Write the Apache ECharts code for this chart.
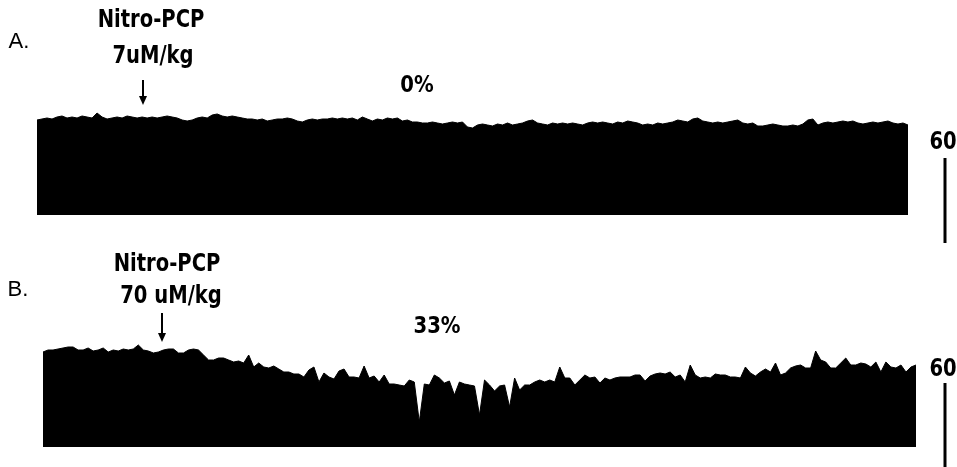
<!DOCTYPE html>
<html>
<head>
<meta charset="utf-8">
<script src="https://cdn.jsdelivr.net/npm/echarts@6/dist/echarts.min.js"></script>
<style>
  html, body { margin: 0; padding: 0; background: #fff; }
  #chart { width: 957px; height: 467px; }
</style>
</head>
<body>
<div id="chart"></div>
<script>
// trace height above baseline (arbitrary units)
var traceA = [
  95, 96, 97, 96, 98, 99, 97, 98, 97, 99, 98, 97, 102, 98, 96, 97, 98, 97, 99, 98,
  97, 98, 97, 98, 97, 98, 99, 98, 97, 95, 94, 95, 97, 98, 97, 100, 101, 99, 98, 99,
  98, 97, 96, 96, 95, 96, 94, 95, 96, 96, 97, 96, 94, 93, 95, 96, 95, 96, 96, 97,
  96, 97, 96, 97, 95, 98, 96, 94, 96, 95, 97, 96, 97, 94, 95, 93, 93, 92, 92, 93,
  92, 91, 92, 93, 92, 93, 88, 87, 90, 91, 90, 89, 91, 90, 92, 90, 91, 92, 94, 95,
  92, 91, 90, 92, 91, 92, 91, 92, 91, 90, 92, 93, 92, 93, 92, 91, 93, 92, 94, 93,
  92, 90, 91, 90, 92, 91, 92, 93, 95, 94, 93, 96, 97, 94, 93, 92, 93, 92, 93, 94,
  95, 92, 91, 92, 89, 89, 90, 91, 90, 89, 89, 90, 89, 91, 95, 96, 90, 92, 93, 92,
  93, 94, 93, 94, 92, 91, 92, 93, 92, 93, 94, 92, 91, 92, 90
]
var traceB = [
  95, 97, 97, 98, 99, 100, 100, 97, 97, 99, 96, 97, 99, 95, 97, 96, 98, 97, 98, 102,
  97, 96, 94, 95, 97, 98, 98, 94, 94, 97, 98, 97, 92, 87, 87, 89, 89, 87, 85, 86,
  84, 92, 80, 84, 80, 79, 81, 78, 75, 75, 73, 73, 70, 77, 80, 65, 74, 70, 68, 76,
  78, 70, 70, 69, 81, 69, 71, 65, 72, 63, 63, 62, 61, 67, 65, 25, 63, 62, 72, 69,
  64, 66, 52, 65, 63, 62, 61, 32, 67, 62, 56, 61, 62, 40, 69, 57, 62, 62, 65, 67,
  65, 67, 65, 80, 69, 69, 62, 67, 72, 69, 70, 64, 69, 67, 69, 70, 70, 70, 72, 72,
  66, 71, 73, 74, 73, 75, 70, 72, 65, 82, 72, 69, 70, 69, 73, 72, 72, 70, 70, 69,
  80, 74, 71, 75, 78, 75, 84, 72, 74, 79, 81, 82, 79, 79, 96, 87, 85, 79, 79, 84,
  89, 82, 82, 84, 83, 80, 85, 75, 85, 80, 79, 82, 75, 80, 82
]
var panelLabels = ['A.', 'B.']
var drugName = 'Nitro-PCP'
var doseLabels = ['7uM/kg', '70 uM/kg']
var inhibitionLabels = ['0%', '33%']
var scaleLabel = '60'

var chart = echarts.init(document.getElementById('chart'))

function idx(arr) {
  return arr.map(function (v, i) { return i })
}

function traceSeries(data, n) {
  return {
    type: 'line',
    xAxisIndex: n,
    yAxisIndex: n,
    data: data,
    symbol: 'none',
    silent: true,
    lineStyle: { color: '#000', width: 1 },
    areaStyle: { color: '#000', opacity: 1 }
  }
}

var boldFont = 'bold 25px "DejaVu Sans Condensed"'
var pctFont = 'bold 23px "DejaVu Sans Condensed"'
var plainFont = '22px "Liberation Sans"'

// squeeze bold labels a bit to get the narrow typewriter-era face
function txt(text, x, y, font, sx) {
  return {
    type: 'text', x: x, y: y, silent: true, scaleX: sx || 1,
    style: { text: text, font: font, fill: '#000', textAlign: 'center', textVerticalAlign: 'middle' }
  }
}

function arrow(x, y1, y2) {
  return [
    { type: 'line', shape: { x1: x, y1: y1, x2: x, y2: y2 - 6 }, style: { stroke: '#000', lineWidth: 2 } },
    { type: 'polygon', shape: { points: [[x - 4, y2 - 9], [x + 4, y2 - 9], [x, y2]] }, style: { fill: '#000' } }
  ]
}

function scaleBar(y1, y2) {
  return { type: 'line', shape: { x1: 945, y1: y1, x2: 945, y2: y2 }, style: { stroke: '#000', lineWidth: 3 } }
}

var graphics = [
  txt(panelLabels[0], 19, 42, plainFont),
  txt(drugName, 151, 20, boldFont, 0.87),
  txt(doseLabels[0], 153, 56, boldFont, 0.87),
  txt(inhibitionLabels[0], 417, 86, pctFont, 0.95),
  txt(scaleLabel, 943, 142, boldFont, 0.87),
  scaleBar(158, 243),
  txt(panelLabels[1], 18, 290, plainFont),
  txt(drugName, 167, 264, boldFont, 0.87),
  txt(doseLabels[1], 171, 296, boldFont, 0.87),
  txt(inhibitionLabels[1], 437, 327, pctFont, 0.95),
  txt(scaleLabel, 943, 369, boldFont, 0.87),
  scaleBar(383, 467)
].concat(arrow(143, 80, 105), arrow(162, 313, 342))

var option = {
  animation: false,
  backgroundColor: '#fff',
  grid: [
    { left: 37, right: 49, top: 75, height: 140 },
    { left: 43, right: 41, top: 307, height: 140 }
  ],
  xAxis: [
    { type: 'category', gridIndex: 0, data: idx(traceA), boundaryGap: false, show: false },
    { type: 'category', gridIndex: 1, data: idx(traceB), boundaryGap: false, show: false }
  ],
  yAxis: [
    { type: 'value', gridIndex: 0, min: 0, max: 140, show: false },
    { type: 'value', gridIndex: 1, min: 0, max: 140, show: false }
  ],
  series: [traceSeries(traceA, 0), traceSeries(traceB, 1)],
  graphic: graphics
}

chart.setOption(option)
</script>
</body>
</html>
